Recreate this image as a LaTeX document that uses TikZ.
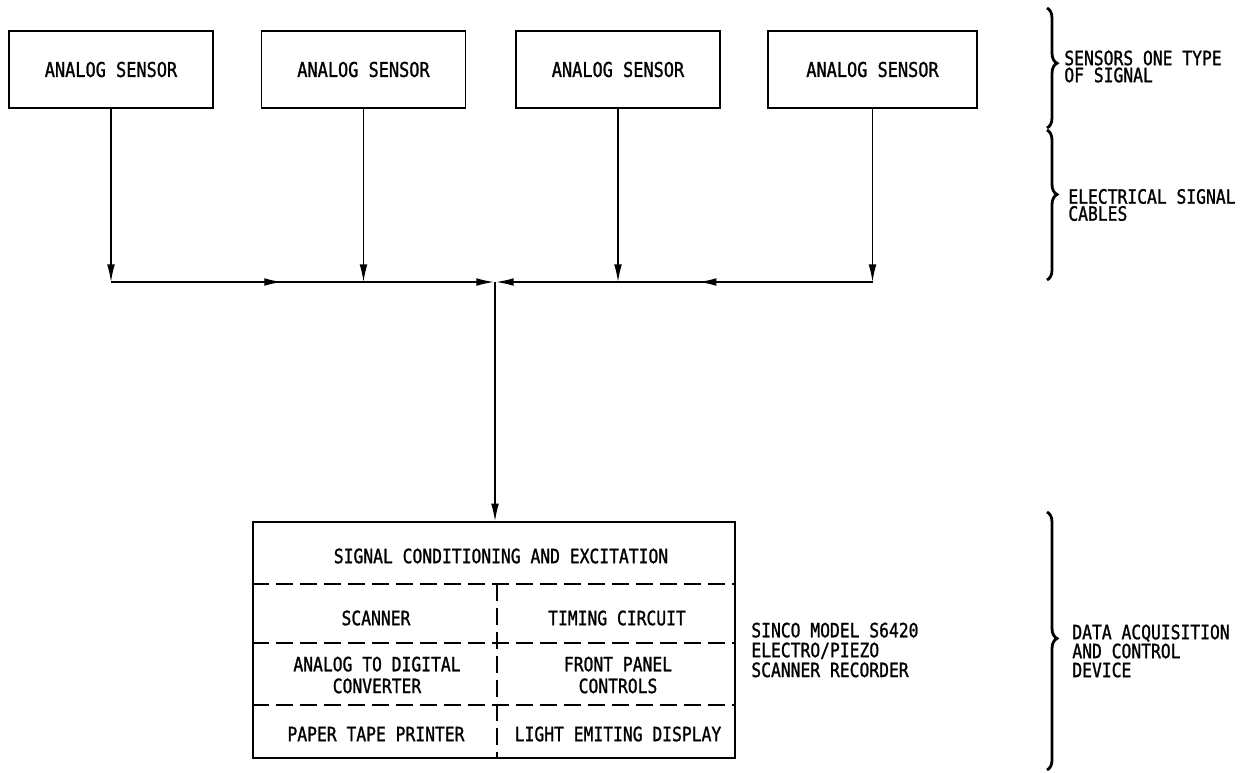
\documentclass[tikz,border=0pt]{standalone}
\usepackage{fontspec}
\usetikzlibrary{arrows.meta,decorations.pathreplacing,decorations.markings}
% condensed monospaced lettering
\newfontfamily\lettering{DejaVu Sans Mono}[FakeStretch=0.83,FakeBold=1.2]
\begin{document}
\begin{tikzpicture}[x=0.02cm,y=-0.02cm,
  lbl/.style={font=\lettering\fontsize{11.2pt}{9.7pt}\selectfont,inner sep=0pt},
  sensorbox/.style={draw,line width=0.9pt,minimum width=4.08cm,minimum height=1.54cm,
    font=\lettering\fontsize{11.6pt}{10pt}\selectfont},
  wire/.style={line width=0.75pt},
  tip/.style={-{Latex[length=10pt,width=4.4pt]}},
  divider/.style={line width=0.8pt,dash pattern=on 0.34cm off 0.14cm},
  bracket/.style={line width=1.6pt,decorate,decoration={brace,amplitude=0.2cm}},
  midtip/.style={postaction={decorate},decoration={markings,
    mark=at position #1 with {\arrow{Latex[length=10pt,width=4.4pt]}}}}
]
\useasboundingbox (0,0) rectangle (1250,772);

% sensors
\node[sensorbox] (s1) at (111,69.5) {ANALOG SENSOR};
\node[sensorbox] (s2) at (363.5,69.5) {ANALOG SENSOR};
\node[sensorbox] (s3) at (618,69.5) {ANALOG SENSOR};
\node[sensorbox,minimum width=4.18cm] (s4) at (872.5,69.5) {ANALOG SENSOR};

% bus junctions
\coordinate (b1) at (s1.south |- 0,282);
\coordinate (b2) at (s2.south |- 0,282);
\coordinate (b3) at (s3.south |- 0,282);
\coordinate (b4) at (s4.south |- 0,282);
\coordinate (j) at (495,282);

\foreach \i in {1,...,4}
  \draw[wire,tip] (s\i.south) -- (b\i);

\draw[wire,tip,midtip=0.445,shorten >=0.6pt] (b1) -- (j);
\draw[wire,tip,midtip=0.46,shorten >=0.6pt] (b4) -- (j);

% data acquisition device
\node[draw,line width=0.9pt,minimum width=9.64cm,minimum height=4.72cm] (dev) at (494,640) {};
\draw[wire,tip] (j) -- (j |- dev.north);

\coordinate (split) at (497,584);
\draw[divider] (dev.west |- split) -- (dev.east |- split);
\draw[divider] (dev.west |- 0,643) -- (dev.east |- 0,643);
\draw[divider] (dev.west |- 0,705) -- (dev.east |- 0,705);
\draw[divider] (split) -- (split |- dev.south);

\node[lbl] (sig) at (501,556) {SIGNAL CONDITIONING AND EXCITATION};
\node[lbl] (scn) at (376,618) {SCANNER};
\node[lbl] (tim) at (617,618) {TIMING CIRCUIT};
\node[lbl,align=center,font=\lettering\fontsize{11.2pt}{12.4pt}\selectfont] (adc) at (377,675) {ANALOG TO DIGITAL\\CONVERTER};
\node[lbl,align=center,font=\lettering\fontsize{11.2pt}{12.4pt}\selectfont] (fpc) at (618,675) {FRONT PANEL\\CONTROLS};
\node[lbl] (ptp) at (376,734) {PAPER TAPE PRINTER};
\node[lbl] (led) at (618,734) {LIGHT EMITING DISPLAY};

\node[lbl,anchor=west,align=left,font=\lettering\fontsize{11.2pt}{11.3pt}\selectfont] (model) at (751,650)
  {SINCO MODEL S6420\\ELECTRO/PIEZO\\SCANNER RECORDER};

% braces and their notes
\draw[bracket,decoration={aspect=0.46}] (1047,8) -- (1047,128);
\draw[bracket,decoration={aspect=0.43}] (1047,130) -- (1047,280);
\draw[bracket,decoration={aspect=0.49}] (1047,512) -- (1047,770);

\node[lbl,anchor=west,align=left] (n1) at (1064,66.5) {SENSORS ONE TYPE\\OF SIGNAL};
\node[lbl,anchor=west,align=left] (n2) at (1068,205) {ELECTRICAL SIGNAL\\CABLES};
\node[lbl,anchor=west,align=left,font=\lettering\fontsize{11.2pt}{10.8pt}\selectfont] (n3) at (1072,651)
  {DATA ACQUISITION\\AND CONTROL\\DEVICE};
\end{tikzpicture}
\end{document}
